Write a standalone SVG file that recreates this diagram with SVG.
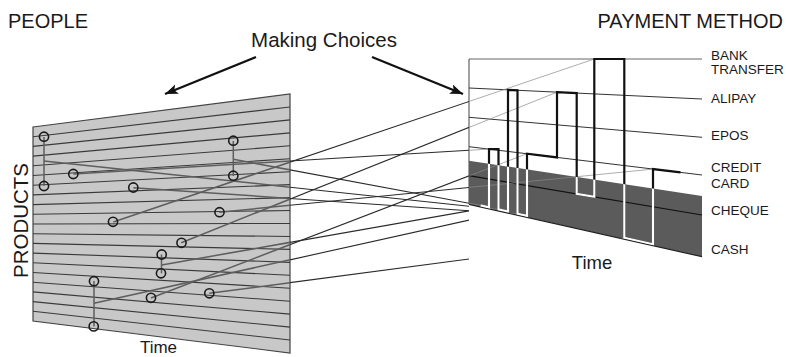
<svg xmlns="http://www.w3.org/2000/svg" xmlns:xlink="http://www.w3.org/1999/xlink" width="786" height="357" viewBox="0 0 786 357">
<style>
text{font-family:"Liberation Sans",Arial,sans-serif;fill:#1a1a1a}
.stripe{stroke:#3a3a3a;stroke-width:1.1;fill:none}
.pl{stroke:#333;stroke-width:1;fill:none}
.ch{fill:none;stroke:#1a1a1a;stroke-width:1.6}
.vt{stroke:#5e5e5e;stroke-width:1.5}
.lbl{font-size:13.5px}
.arr{stroke:#111;stroke-width:2.2;fill:none}
</style>
<defs>
<marker id="ah" markerWidth="16" markerHeight="12" refX="13" refY="5" orient="auto" markerUnits="userSpaceOnUse">
<path d="M0,0 L13,5 L0,10 L3,5 Z" fill="#111"/>
</marker>
<clipPath id="clipL"><polygon points="33,127 290,94 290,353 33,321"/></clipPath>
<clipPath id="clipM"><rect x="290" y="0" width="179" height="357"/></clipPath>
<clipPath id="clipR"><polygon points="469,59 702,59 702,257 469,204"/></clipPath>
<clipPath id="clipDark"><polygon points="469,160.7 702,196 702,256.7 469,204.3"/></clipPath>
<g id="connLines">
<line x1="44" y1="161" x2="498.5" y2="209.4"/>
<line x1="73.3" y1="174" x2="489" y2="149.1"/>
<line x1="94" y1="303.3" x2="508" y2="211.5"/>
<line x1="113.3" y1="222" x2="594.3" y2="59"/>
<line x1="133.3" y1="187.7" x2="517.5" y2="214"/>
<line x1="151" y1="298" x2="527" y2="153.7"/>
<line x1="161.7" y1="265" x2="489" y2="207.3"/>
<line x1="181.3" y1="242.7" x2="557" y2="92.2"/>
<line x1="209.3" y1="293.3" x2="624.3" y2="238.5"/>
<line x1="219.3" y1="212.3" x2="653" y2="169.1"/>
<line x1="233.3" y1="159.3" x2="480.5" y2="205.4"/>
</g>
<path id="trace" d="M480.5,205.4 L489,207.3 L489,149.1 L498.5,149.1 L498.5,209.4 L508,211.5 L508,89.8 L517.5,90.3 L517.5,213.7 L527,215.9 L527,153.7 L557,157.4 L557,92.2 L576.7,93.1 L576.7,193.9 L594.3,196.8 L594.3,59 L624.3,59 L624.3,237.7 L653,244.2 L653,169.1 L680.5,172.4"/>
</defs>

<g id="people-panel">
<polygon points="33,127 290,94 290,353 33,321" fill="#c8c8c8" stroke="#444" stroke-width="1.2"/>
<line class="stripe" x1="33" y1="136.7" x2="290" y2="106.95"/>
<line class="stripe" x1="33" y1="146.4" x2="290" y2="119.9"/>
<line class="stripe" x1="33" y1="156.1" x2="290" y2="132.85"/>
<line class="stripe" x1="33" y1="165.8" x2="290" y2="145.8"/>
<line class="stripe" x1="33" y1="175.5" x2="290" y2="158.75"/>
<line class="stripe" x1="33" y1="185.2" x2="290" y2="171.7"/>
<line class="stripe" x1="33" y1="194.9" x2="290" y2="184.65"/>
<line class="stripe" x1="33" y1="204.6" x2="290" y2="197.6"/>
<line class="stripe" x1="33" y1="214.3" x2="290" y2="210.55"/>
<line class="stripe" x1="33" y1="224" x2="290" y2="223.5"/>
<line class="stripe" x1="33" y1="233.7" x2="290" y2="236.45"/>
<line class="stripe" x1="33" y1="243.4" x2="290" y2="249.4"/>
<line class="stripe" x1="33" y1="253.1" x2="290" y2="262.35"/>
<line class="stripe" x1="33" y1="262.8" x2="290" y2="275.3"/>
<line class="stripe" x1="33" y1="272.5" x2="290" y2="288.25"/>
<line class="stripe" x1="33" y1="282.2" x2="290" y2="301.2"/>
<line class="stripe" x1="33" y1="291.9" x2="290" y2="314.15"/>
<line class="stripe" x1="33" y1="301.6" x2="290" y2="327.1"/>
<line class="stripe" x1="33" y1="311.3" x2="290" y2="340.05"/>
</g>

<g id="payment-panel">
<polygon points="469,59 702,59 702,257 469,204" fill="#fff"/>
<line x1="469" y1="59" x2="702" y2="59" stroke="#999" stroke-width="1.5"/>
<line x1="469" y1="59" x2="469" y2="204" stroke="#444" stroke-width="1"/>
<line class="pl" x1="469" y1="88" x2="702" y2="99"/>
<line class="pl" x1="469" y1="117.3" x2="702" y2="137.3"/>
<line class="pl" x1="469" y1="146.7" x2="702" y2="175"/>
<polygon points="469,160.7 702,196 702,256.7 469,204.3" fill="#5b5b5b"/>
<line x1="469" y1="204.3" x2="702" y2="256.7" stroke="#222" stroke-width="1.2"/>
<line x1="469" y1="175.7" x2="702" y2="215" stroke="#111" stroke-width="1.2"/>
</g>

<g id="connectors">
<use xlink:href="#connLines" clip-path="url(#clipL)" stroke="#5e5e5e" stroke-width="1.5"/>
<use xlink:href="#connLines" clip-path="url(#clipM)" stroke="#2a2a2a" stroke-width="1.1"/>
<use xlink:href="#connLines" clip-path="url(#clipR)" stroke="#8a8a8a" stroke-width="0.7"/>
</g>

<g id="people-choices">
<line class="vt" x1="44" y1="137" x2="44" y2="186"/>
<line class="vt" x1="233.3" y1="141" x2="233.3" y2="176"/>
<line class="vt" x1="161.5" y1="254.5" x2="161.5" y2="273.3"/>
<line class="vt" x1="94" y1="281" x2="94" y2="326.5"/>
<circle class="ch" cx="44" cy="136.7" r="4.6"/>
<circle class="ch" cx="44" cy="186" r="4.6"/>
<circle class="ch" cx="73.3" cy="174" r="4.6"/>
<circle class="ch" cx="133.3" cy="187.5" r="4.6"/>
<circle class="ch" cx="233.3" cy="140.7" r="4.6"/>
<circle class="ch" cx="233.3" cy="175.7" r="4.6"/>
<circle class="ch" cx="219.5" cy="212.2" r="4.6"/>
<circle class="ch" cx="113" cy="221.8" r="4.6"/>
<circle class="ch" cx="181.5" cy="242.8" r="4.6"/>
<circle class="ch" cx="161.7" cy="254.5" r="4.6"/>
<circle class="ch" cx="161" cy="273.3" r="4.6"/>
<circle class="ch" cx="94" cy="281.2" r="4.6"/>
<circle class="ch" cx="151" cy="297.8" r="4.6"/>
<circle class="ch" cx="209.3" cy="293.3" r="4.6"/>
<circle class="ch" cx="93.7" cy="326.4" r="4.6"/>
</g>

<g id="payment-trace">
<use xlink:href="#trace" fill="none" stroke="#111" stroke-width="2.2" stroke-linejoin="miter"/>
<use xlink:href="#trace" fill="none" stroke="#fff" stroke-width="2.2" stroke-linejoin="miter" clip-path="url(#clipDark)"/>
</g>

<g id="making-choices">
<text x="324" y="47" font-size="20.5" text-anchor="middle">Making Choices</text>
<line class="arr" x1="256" y1="57" x2="165" y2="94" marker-end="url(#ah)"/>
<line class="arr" x1="372" y1="57" x2="463" y2="94" marker-end="url(#ah)"/>
</g>

<g id="titles">
<text x="8" y="28" font-size="20">PEOPLE</text>
<text x="783" y="28" font-size="20" text-anchor="end">PAYMENT METHOD</text>
<text transform="translate(27.5,220.5) rotate(-90)" font-size="20.5" text-anchor="middle">PRODUCTS</text>
<text x="158.5" y="352.5" font-size="17" text-anchor="middle">Time</text>
<text x="592" y="268.5" font-size="18.5" text-anchor="middle">Time</text>
</g>

<g id="method-labels" class="lbl">
<text class="lbl" x="711" y="60">BANK</text>
<text class="lbl" x="711" y="74.3">TRANSFER</text>
<text class="lbl" x="711" y="103.3">ALIPAY</text>
<text class="lbl" x="711" y="140">EPOS</text>
<text class="lbl" x="711" y="171.7">CREDIT</text>
<text class="lbl" x="711" y="188.3">CARD</text>
<text class="lbl" x="711" y="215">CHEQUE</text>
<text class="lbl" x="711" y="254.3">CASH</text>
</g>
</svg>
